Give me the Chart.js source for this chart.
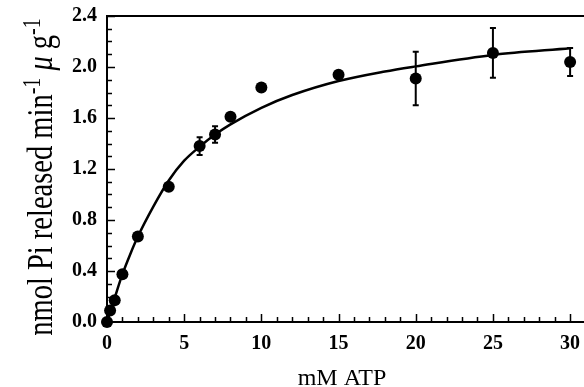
<!DOCTYPE html>
<html>
<head>
<meta charset="utf-8">
<script src="https://cdn.jsdelivr.net/npm/chart.js@4"></script>
<style>
  html, body { margin: 0; padding: 0; background: #fff; }
  #wrap { width: 584px; height: 387px; }
</style>
</head>
<body>
<div id="wrap"><canvas id="chart"></canvas></div>
<script>
// measured points (mM ATP vs nmol Pi released)
const atp = [0, 0.2, 0.5, 1, 2, 4, 6, 7, 8, 10, 15, 20, 25, 30];
const rate = [0.0, 0.09, 0.17, 0.375, 0.67, 1.06, 1.38, 1.47, 1.61, 1.84, 1.94, 1.91, 2.11, 2.04];
const rateErr = [0, 0, 0, 0, 0, 0, 0.07, 0.065, 0, 0, 0, 0.21, 0.195, 0.11];

// fitted curve
const fitX = [0, 0.25, 0.5, 1, 1.5, 2, 3, 4, 5, 6, 7, 8, 10, 12, 15, 18, 20, 25, 30];
const fitY = [0, 0.095, 0.19, 0.375, 0.53, 0.67, 0.905, 1.11, 1.265, 1.375, 1.47, 1.55, 1.68, 1.78, 1.89, 1.965, 2.005, 2.095, 2.147];

const xTicks = [0, 5, 10, 15, 20, 25, 30];
const yTicks = [0, 0.4, 0.8, 1.2, 1.6, 2.0, 2.4];
const xTitle = 'mM ATP';

const serif = '"Liberation Serif", "DejaVu Serif", serif';

// axis box + inward tick marks
const axesPlugin = {
  id: 'axesBox',
  beforeDatasetsDraw(chart) {
    const ctx = chart.ctx, a = chart.chartArea;
    const xs = chart.scales.x, ys = chart.scales.y;
    ctx.save();
    ctx.strokeStyle = '#000';
    ctx.lineWidth = 2;
    ctx.beginPath();
    ctx.moveTo(a.right, a.top); ctx.lineTo(a.left, a.top);
    ctx.lineTo(a.left, a.bottom); ctx.lineTo(a.right, a.bottom);
    ctx.stroke();
    ctx.lineWidth = 1.5;
    ctx.beginPath();
    for (let v = 1; v <= 30; v++) {
      const px = Math.round(xs.getPixelForValue(v)) + 0.5;
      const len = v % 5 === 0 ? 8 : 5;
      ctx.moveTo(px, a.bottom); ctx.lineTo(px, a.bottom - len);
    }
    for (let i = 1; i <= 24; i++) {
      const py = Math.round(ys.getPixelForValue(i / 10)) + 0.5;
      const len = i % 4 === 0 ? 8 : 5;
      ctx.moveTo(a.left, py); ctx.lineTo(a.left + len, py);
    }
    ctx.stroke();
    ctx.restore();
  },
  afterDatasetsDraw(chart) {
    // error bars
    const ctx = chart.ctx;
    const xs = chart.scales.x, ys = chart.scales.y;
    ctx.save();
    ctx.strokeStyle = '#000';
    ctx.lineWidth = 2;
    ctx.beginPath();
    atp.forEach((x, i) => {
      if (!rateErr[i]) return;
      const px = xs.getPixelForValue(x);
      const top = ys.getPixelForValue(rate[i] + rateErr[i]);
      const bot = ys.getPixelForValue(rate[i] - rateErr[i]);
      ctx.moveTo(px, top); ctx.lineTo(px, bot);
      ctx.moveTo(px - 3, top); ctx.lineTo(px + 3, top);
      ctx.moveTo(px - 3, bot); ctx.lineTo(px + 3, bot);
    });
    ctx.stroke();
    ctx.restore();
  },
  afterDraw(chart) {
    const ctx = chart.ctx;
    ctx.save();
    ctx.fillStyle = '#000';
    // x title
    ctx.font = '24px ' + serif;
    ctx.textAlign = 'center';
    ctx.textBaseline = 'alphabetic';
    ctx.fillText(xTitle, 342, 385);

    // y title with superscripts
    const big = '28.5px ' + serif, small = '20px ' + serif;
    const parts = [
      { t: 'nmol Pi released min', f: big, dy: 0 },
      { t: '-1', f: small, dy: -10 },
      { t: ' ', f: big, dy: 0 },
      { t: 'μ', f: 'italic ' + big, dy: 0 },
      { t: ' g', f: big, dy: 0 },
      { t: '-1', f: small, dy: -10 }
    ];
    let total = 0;
    parts.forEach(p => { ctx.font = p.f; p.w = ctx.measureText(p.t).width; total += p.w; });
    ctx.translate(52, 177);
    ctx.rotate(-Math.PI / 2);
    ctx.scale(1, 1.25);
    ctx.textAlign = 'left';
    let x = -total / 2;
    parts.forEach(p => {
      ctx.font = p.f;
      ctx.fillText(p.t, x, p.dy);
      x += p.w;
    });
    ctx.restore();
  }
};

const ctx = document.getElementById('chart').getContext('2d');
new Chart(ctx, {
  type: 'scatter',
  data: {
    datasets: [
      {
        label: 'fit',
        data: fitX.map((x, i) => ({ x: x, y: fitY[i] })),
        showLine: true,
        borderColor: '#000',
        borderWidth: 2.5,
        pointRadius: 0,
        cubicInterpolationMode: 'monotone',
        fill: false
      },
      {
        label: 'data',
        data: atp.map((x, i) => ({ x: x, y: rate[i] })),
        showLine: false,
        pointRadius: 6,
        pointBackgroundColor: '#000',
        pointBorderColor: '#000',
        pointBorderWidth: 0,
        clip: false
      }
    ]
  },
  options: {
    responsive: true,
    maintainAspectRatio: false,
    animation: false,
    layout: { autoPadding: false, padding: { top: 16, right: 0, bottom: 0, left: 0 } },
    plugins: { legend: { display: false }, tooltip: { enabled: false } },
    scales: {
      x: {
        type: 'linear',
        min: 0,
        max: 30.9,
        afterBuildTicks: s => { s.ticks = xTicks.map(v => ({ value: v })); },
        afterFit: s => { s.height = 65; s.paddingLeft = 0; s.paddingRight = 0; },
        grid: { display: false, drawTicks: false },
        border: { display: false },
        ticks: {
          padding: 10,
          maxRotation: 0,
          color: '#000',
          font: { family: serif, size: 20, weight: 'bold' },
          callback: v => String(v)
        }
      },
      y: {
        min: 0,
        max: 2.4,
        afterBuildTicks: s => { s.ticks = yTicks.map(v => ({ value: v })); },
        afterFit: s => { s.width = 107; s.paddingTop = 0; s.paddingBottom = 0; },
        grid: { display: false, drawTicks: false },
        border: { display: false },
        ticks: {
          padding: 10,
          color: '#000',
          font: { family: serif, size: 20, weight: 'bold' },
          callback: v => v.toFixed(1)
        }
      }
    }
  },
  plugins: [axesPlugin]
});
</script>
</body>
</html>
